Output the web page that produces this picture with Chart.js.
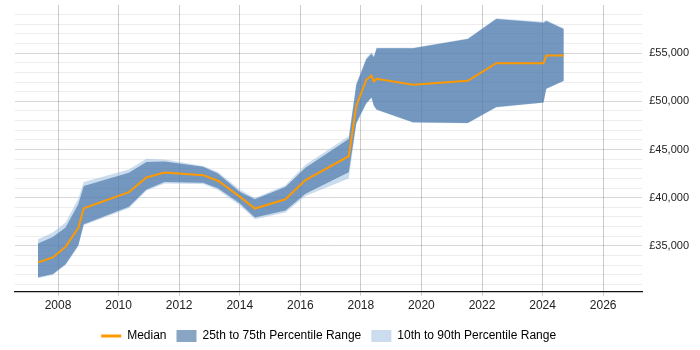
<!DOCTYPE html>
<html>
<head>
<meta charset="utf-8">
<script src="https://cdn.jsdelivr.net/npm/chart.js@4/dist/chart.umd.min.js"></script>
<style>
html,body{margin:0;padding:0;background:#fff;}
#wrap{width:700px;height:350px;}
</style>
</head>
<body>
<div id="wrap"><canvas id="c" width="700" height="350"></canvas></div>
<script>
// Sample dates (decimal years)
const years = [2007.34, 2007.83, 2008.25, 2008.67, 2008.85, 2010.34, 2010.92, 2011.52, 2012.79, 2013.28, 2014.0, 2014.5, 2015.51, 2016.17, 2017.6, 2017.85, 2018.18, 2018.35, 2018.43, 2018.52, 2019.72, 2021.53, 2022.47, 2024.03, 2024.12, 2024.7];
const median = [33280, 33800, 34900, 36860, 38900, 40580, 42100, 42620, 42340, 41760, 40110, 38870, 39830, 41820, 44300, 49550, 52240, 52680, 52060, 52340, 51720, 52130, 53960, 53960, 54750, 54750];
const p25 = [31730, 32070, 33100, 35070, 37240, 39070, 40860, 41620, 41560, 40970, 39420, 37940, 38660, 40420, 42650, 47760, 49830, 50410, 49550, 49140, 47820, 47760, 49410, 49890, 51310, 52130];
const p75 = [35250, 35930, 36900, 39310, 41200, 42590, 43690, 43760, 43210, 42520, 40620, 39830, 41100, 43100, 46100, 51720, 54380, 54930, 54580, 55510, 55510, 56480, 58550, 58160, 58340, 57510];
const p10 = [31630, 31970, 33000, 34930, 37140, 38900, 40720, 41480, 41420, 40790, 39210, 37770, 38450, 40180, 42000, 47650, 49750, 50350, 49500, 49100, 47780, 47720, 49370, 49850, 51270, 52100];
const p90 = [35690, 36380, 37420, 39900, 41620, 42930, 44030, 43960, 43280, 42660, 40860, 39960, 41280, 43420, 46380, 51900, 54500, 55100, 54700, 55550, 55550, 56520, 58620, 58250, 58440, 57550];
const xTicks = [2008, 2010, 2012, 2014, 2016, 2018, 2020, 2022, 2024, 2026];
const yTicks = [31000,32000,33000,34000,35000,36000,37000,38000,39000,40000,41000,42000,43000,44000,45000,46000,47000,48000,49000,50000,51000,52000,53000,54000,55000,56000,57000,58000,59000];
const labels = ['Median', '25th to 75th Percentile Range', '10th to 90th Percentile Range'];

const ORANGE = '#ff9900';
const DARK = 'rgba(57,105,158,0.6)';
const LIGHT = 'rgba(150,185,222,0.5)';

const pts = arr => arr.map((v, i) => ({x: years[i], y: v}));
const base = {pointRadius: 0, pointHoverRadius: 0, tension: 0, borderWidth: 0};

Chart.defaults.font.family = '"Liberation Sans", Arial, Helvetica, sans-serif';
Chart.defaults.color = '#333';

new Chart(document.getElementById('c'), {
  type: 'line',
  data: {
    datasets: [
      Object.assign({}, base, {label: labels[0], data: pts(median), borderColor: ORANGE, borderWidth: 2, fill: false}),
      Object.assign({}, base, {label: labels[1], data: pts(p75), borderColor: DARK, backgroundColor: DARK, fill: '+1'}),
      Object.assign({}, base, {label: 'p25', data: pts(p25), borderColor: DARK, backgroundColor: DARK, fill: false}),
      Object.assign({}, base, {label: labels[2], data: pts(p90), borderColor: LIGHT, backgroundColor: LIGHT, fill: '+1'}),
      Object.assign({}, base, {label: 'p10', data: pts(p10), borderColor: LIGHT, backgroundColor: LIGHT, fill: false})
    ]
  },
  options: {
    responsive: false,
    animation: false,
    events: [],
    layout: {padding: {left: 15, right: 4, top: 5, bottom: -2}},
    scales: {
      x: {
        type: 'linear',
        min: 2006.58,
        max: 2027.29,
        afterBuildTicks: axis => { axis.ticks = xTicks.map(v => ({value: v})); },
        afterFit: axis => { axis.height += 4; },
        ticks: {callback: v => String(v), font: {size: 12}, padding: 3, maxRotation: 0, autoSkip: false, color: '#222'},
        grid: {color: 'rgba(0,0,0,0.2)', tickLength: 4, drawTicks: true},
        border: {display: true, color: '#111', width: 1.3}
      },
      y: {
        type: 'linear',
        position: 'right',
        min: 30250,
        max: 60000,
        afterBuildTicks: axis => { axis.ticks = yTicks.map(v => ({value: v})); },
        afterFit: axis => { axis.paddingTop = 0; axis.paddingBottom = 0; },
        ticks: {
          callback: v => (v % 5000 === 0) ? '£' + v.toLocaleString('en-GB') : '',
          font: {size: 11}, padding: 7, autoSkip: false, color: '#222'
        },
        grid: {
          drawTicks: false,
          color: ctx => (ctx.tick && ctx.tick.value % 5000 === 0) ? 'rgba(0,0,0,0.16)' : 'rgba(0,0,0,0.07)'
        },
        border: {display: false}
      }
    },
    plugins: {
      tooltip: {enabled: false},
      legend: {
        position: 'bottom',
        fullSize: false,
        labels: {
          usePointStyle: true,
          pointStyleWidth: 20,
          boxHeight: 12,
          padding: 10,
          color: '#222',
          font: {size: 12},
          generateLabels: () => [
            {text: labels[0], fillStyle: ORANGE, strokeStyle: ORANGE, lineWidth: 3, pointStyle: 'line', datasetIndex: 0, hidden: false},
            {text: labels[1], fillStyle: DARK, strokeStyle: DARK, lineWidth: 0, pointStyle: 'rect', datasetIndex: 1, hidden: false},
            {text: labels[2], fillStyle: LIGHT, strokeStyle: LIGHT, lineWidth: 0, pointStyle: 'rect', datasetIndex: 3, hidden: false}
          ]
        }
      }
    }
  }
});
</script>
</body>
</html>
